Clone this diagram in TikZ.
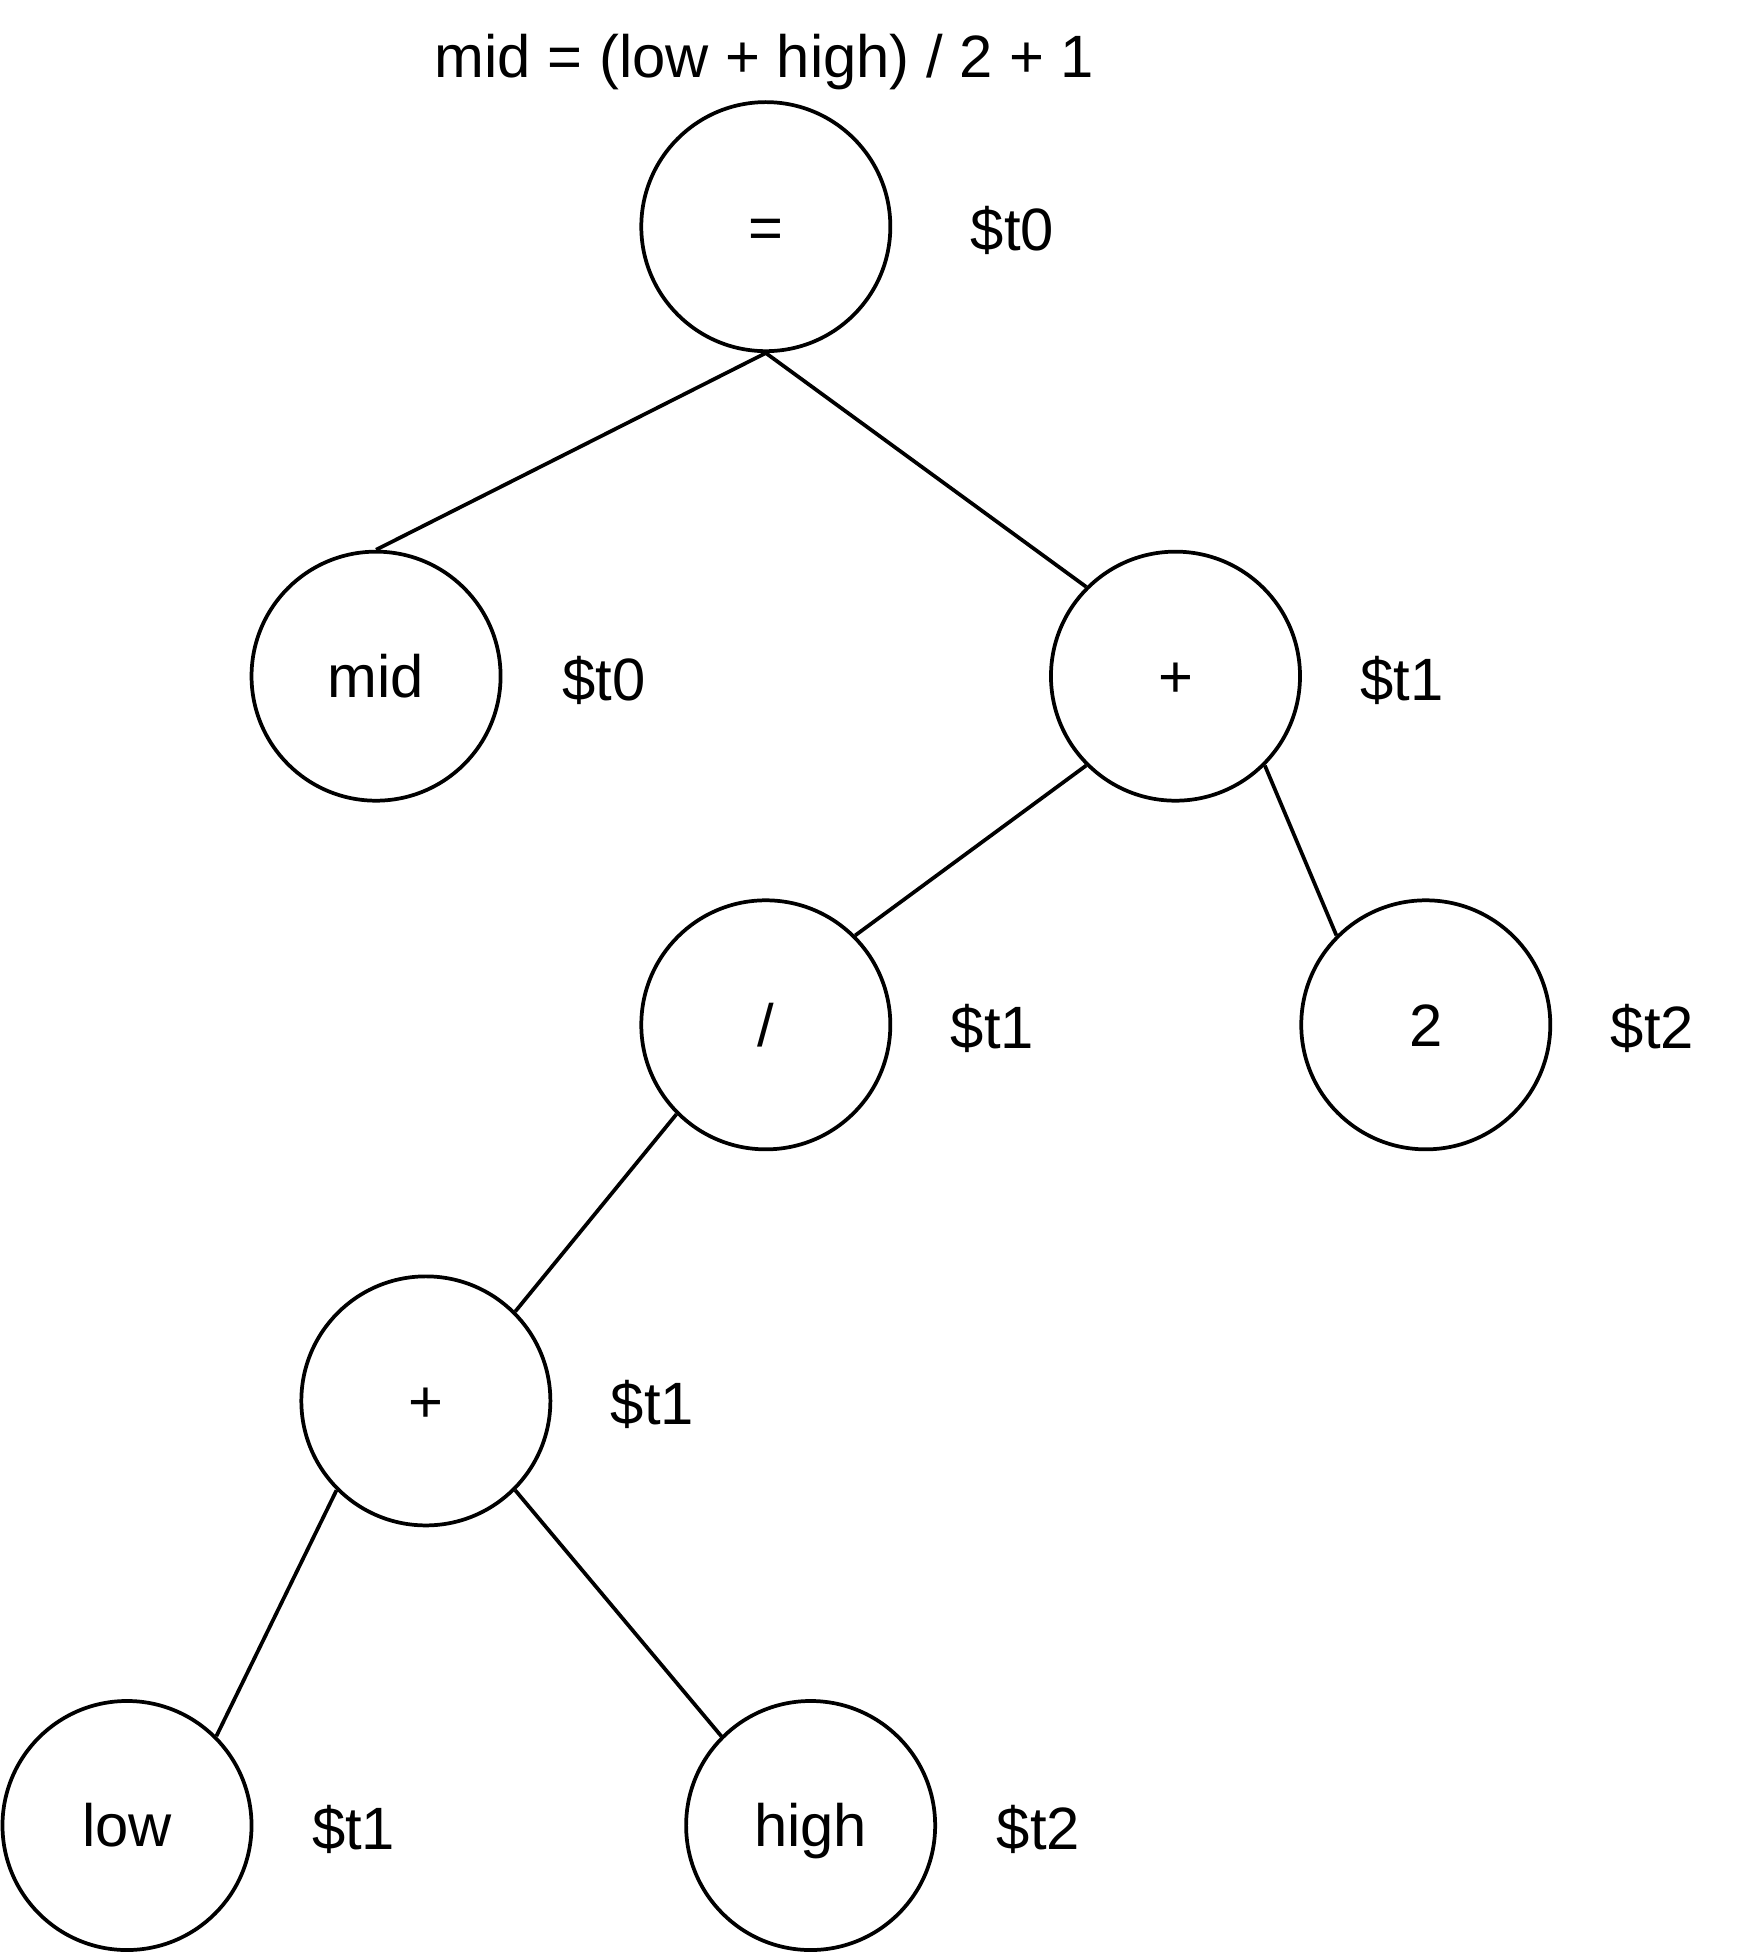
\documentclass[tikz,border=0pt]{standalone}
\usepackage{fontspec}
\setmainfont{Liberation Sans}
\begin{document}
\begin{tikzpicture}[x=0.5pt,y=-0.5pt,
  tn/.style={circle,draw,line width=1.5pt,minimum size=100pt,inner sep=0pt,text height=17.2pt,text depth=0pt,font=\fontsize{24}{28}\selectfont},
  lbl/.style={font=\fontsize{24}{28}\selectfont,inner sep=0pt,text height=17.2pt,text depth=0pt},
  edge/.style={line width=1.5pt}]
\useasboundingbox (0,0) rectangle (1409.4,1570);
\node[lbl] (title) at (614,45) {mid = (low + high) / 2 + 1};
\node[tn] (eq) at (615,182) {=};
\node[lbl] (l0) at (813,184) {\$t0};
\node[tn] (mid) at (302,543) {mid};
\node[lbl] (l1) at (485,545) {\$t0};
\node[tn] (plusA) at (944,543) {+};
\node[lbl] (l2) at (1126,545) {\$t1};
\node[tn] (div) at (615,823) {/};
\node[lbl] (l3) at (797,825) {\$t1};
\node[tn] (two) at (1145,823) {2};
\node[lbl] (l4) at (1327,825) {\$t2};
\node[tn] (plusB) at (342,1125) {+};
\node[lbl] (l5) at (524,1127) {\$t1};
\node[tn] (low) at (102,1466) {low};
\node[lbl] (l6) at (284,1468) {\$t1};
\node[tn] (high) at (651,1466) {high};
\node[lbl] (l7) at (834,1468) {\$t2};
\draw[edge] (eq.south) -- (mid.north);
\draw[edge] (eq.south) -- (plusA.north west);
\draw[edge] (plusA.south west) -- (div.north east);
\draw[edge] (plusA.south east) -- (two.north west);
\draw[edge] (div.south west) -- (plusB.north east);
\draw[edge] (plusB.south west) -- (low.north east);
\draw[edge] (plusB.south east) -- (high.north west);
\end{tikzpicture}
\end{document}
